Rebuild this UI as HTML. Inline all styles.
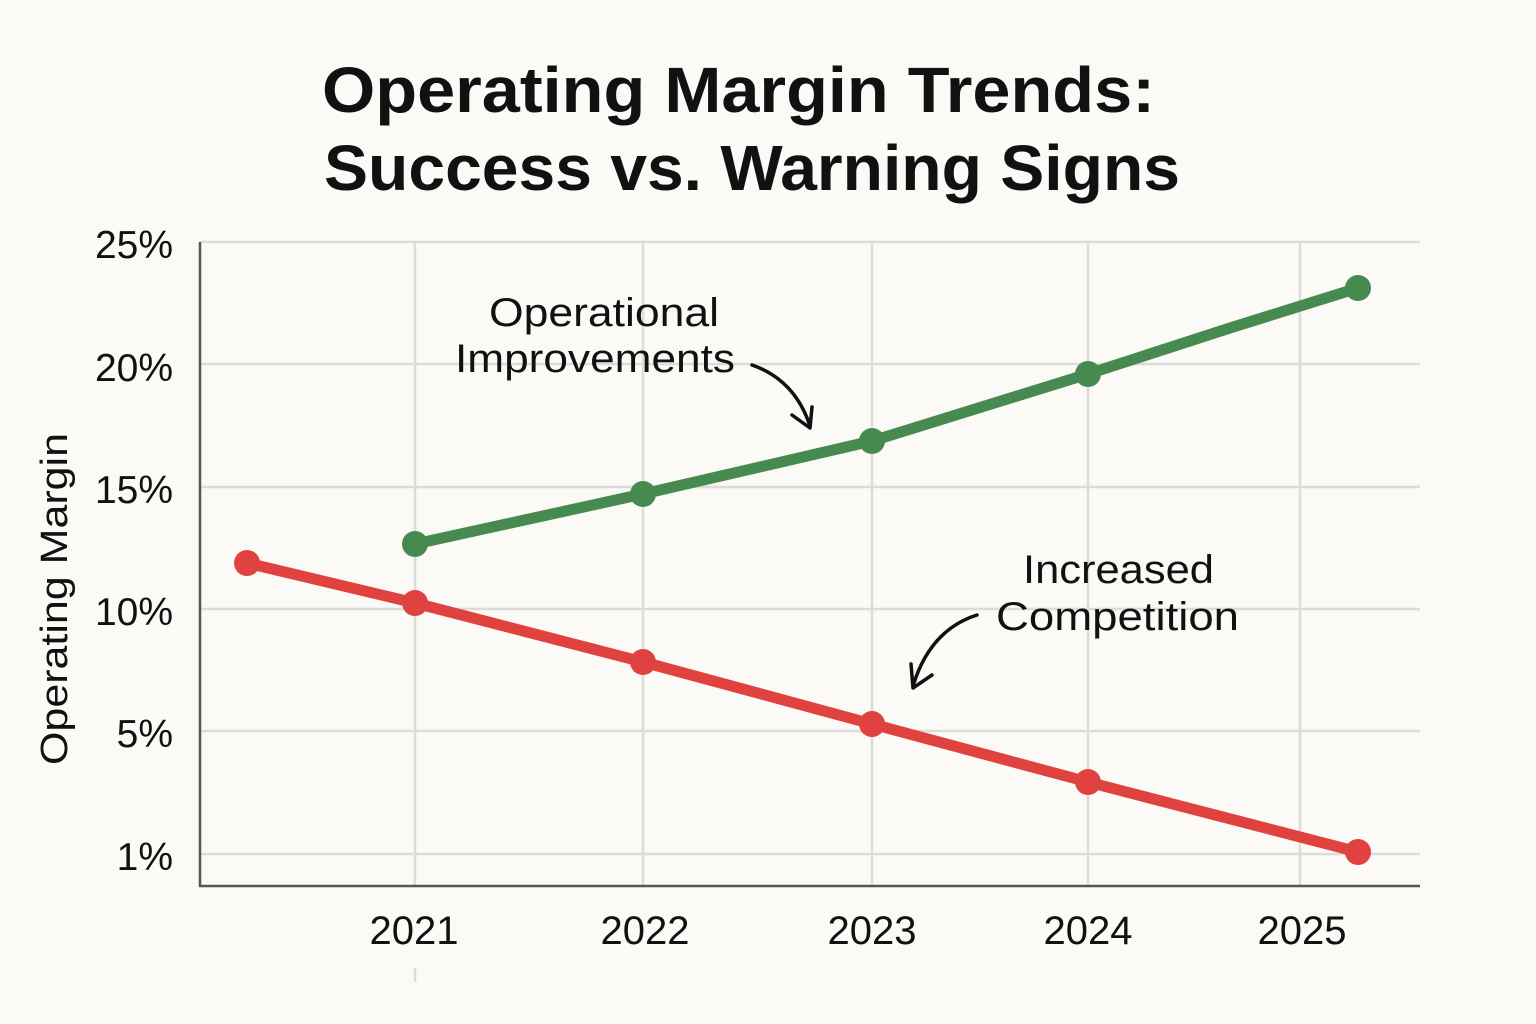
<!DOCTYPE html>
<html><head><meta charset="utf-8"><style>
html,body{margin:0;padding:0;background:#fbfaf6;}
svg{display:block;}
text{font-family:"Liberation Sans",sans-serif;fill:#111;}
</style></head><body>
<svg width="1536" height="1024" viewBox="0 0 1536 1024">
<rect width="1536" height="1024" fill="#fbfaf6"/>
<text x="322" y="112" font-size="64" font-weight="bold" textLength="833" lengthAdjust="spacingAndGlyphs">Operating Margin Trends:</text>
<text x="324" y="190" font-size="64" font-weight="bold" textLength="856" lengthAdjust="spacingAndGlyphs">Success vs. Warning Signs</text>
<g stroke="#dedcd8" stroke-width="2.5">
<line x1="200" y1="242" x2="1420" y2="242"/>
<line x1="200" y1="364" x2="1420" y2="364"/>
<line x1="200" y1="487" x2="1420" y2="487"/>
<line x1="200" y1="609" x2="1420" y2="609"/>
<line x1="200" y1="731" x2="1420" y2="731"/>
<line x1="200" y1="854" x2="1420" y2="854"/>
<line x1="415" y1="242" x2="415" y2="886"/>
<line x1="643" y1="242" x2="643" y2="886"/>
<line x1="872" y1="242" x2="872" y2="886"/>
<line x1="1088" y1="242" x2="1088" y2="886"/>
<line x1="1300" y1="242" x2="1300" y2="886"/>
<line x1="415" y1="968" x2="415" y2="982"/>
</g>
<line x1="200" y1="242" x2="200" y2="887" stroke="#555" stroke-width="2.5"/>
<line x1="199" y1="886" x2="1420" y2="886" stroke="#555" stroke-width="2.5"/>
<g font-size="39" text-anchor="end">
<text x="173" y="258">25%</text>
<text x="173" y="381">20%</text>
<text x="173" y="503">15%</text>
<text x="173" y="625">10%</text>
<text x="173" y="747">5%</text>
<text x="173" y="870">1%</text>
</g>
<g font-size="40" text-anchor="middle">
<text x="414" y="944">2021</text>
<text x="645" y="944">2022</text>
<text x="872" y="944">2023</text>
<text x="1088" y="944">2024</text>
<text x="1302" y="944">2025</text>
</g>
<text transform="translate(67,765) rotate(-90)" font-size="38" textLength="332" lengthAdjust="spacingAndGlyphs">Operating Margin</text>
<polyline points="415,544 643,494 872,441 1088,374 1230,328 1358,288" fill="none" stroke="#478a50" stroke-width="11" stroke-linejoin="round"/>
<g fill="#478a50">
<circle cx="415" cy="544" r="13"/><circle cx="643" cy="494" r="13"/><circle cx="872" cy="441" r="13"/><circle cx="1088" cy="374" r="13"/><circle cx="1358" cy="288" r="13"/>
</g>
<polyline points="247,563 415,603 643,662 872,724 1088,782 1358,852" fill="none" stroke="#e0423f" stroke-width="11" stroke-linejoin="round"/>
<g fill="#e0423f">
<circle cx="247" cy="563" r="13"/><circle cx="415" cy="603" r="13"/><circle cx="643" cy="662" r="13"/><circle cx="872" cy="724" r="13"/><circle cx="1088" cy="782" r="13"/><circle cx="1358" cy="852" r="13"/>
</g>
<g font-size="40">
<text x="489" y="326" textLength="230" lengthAdjust="spacingAndGlyphs">Operational</text>
<text x="455" y="372" textLength="280" lengthAdjust="spacingAndGlyphs">Improvements</text>
<text x="1023" y="583" textLength="191" lengthAdjust="spacingAndGlyphs">Increased</text>
<text x="996" y="630" textLength="243" lengthAdjust="spacingAndGlyphs">Competition</text>
</g>
<g fill="none" stroke="#111" stroke-width="3.5" stroke-linecap="round" stroke-linejoin="round">
<path d="M752,365 Q795,380 810,426"/>
<path d="M792,415 L810,428 L812,407"/>
<path d="M977,615 Q930,630 913,686"/>
<path d="M911,664 L913,688 L932,675"/>
</g>
</svg>
</body></html>
